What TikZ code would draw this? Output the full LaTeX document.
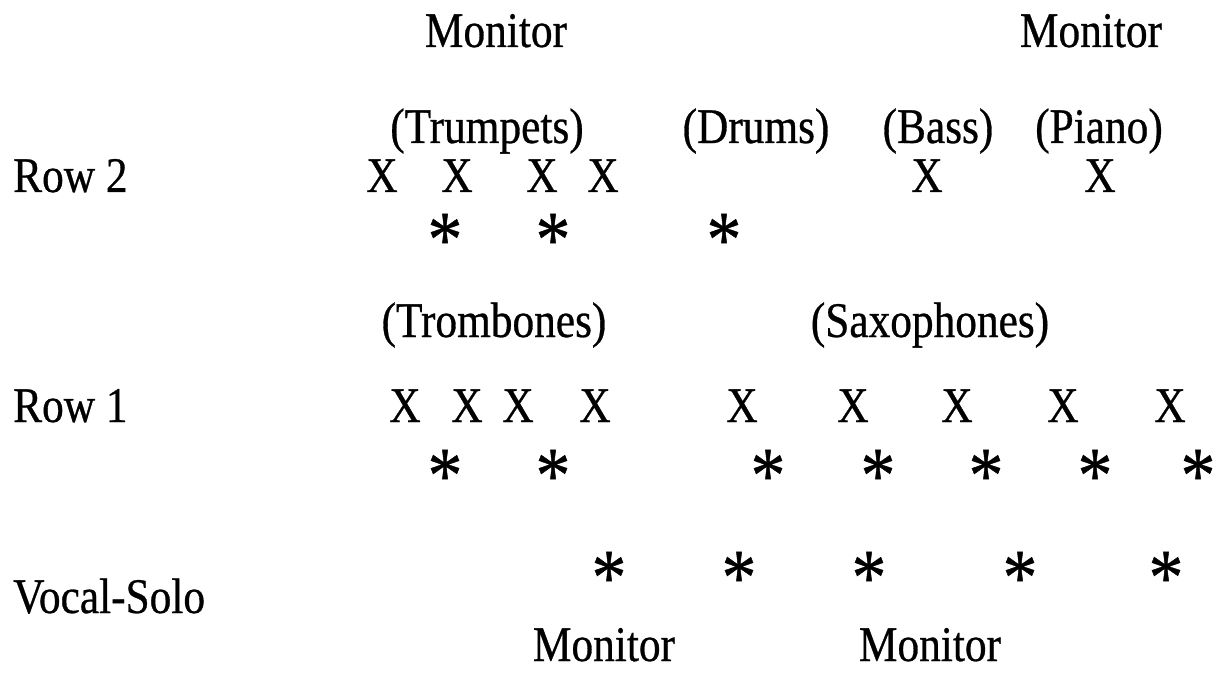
\documentclass[tikz,border=0pt]{standalone}
\usepackage{fontspec}
\setmainfont[FakeStretch=0.87,FakeBold=0.6]{Liberation Serif}
\begin{document}
\begin{tikzpicture}[x=1bp,y=-1bp,
  txt/.style={inner sep=0pt,anchor=base,font=\fontsize{50}{56}\selectfont},
  lft/.style={txt,anchor=base west},
  star/.style={inner sep=0pt,anchor=center,font=\fontsize{80}{90}\selectfont}]
\useasboundingbox[fill=white] (0,0) rectangle (1221,673);
% monitors
\node[txt] (mon1) at (496,47) {Monitor};
\node[txt] (mon2) at (1091,47) {Monitor};
\node[txt] (mon3) at (604,661) {Monitor};
\node[txt] (mon4) at (930,661) {Monitor};
% section labels
\node[txt] (trp) at (487,143) {(Trumpets)};
\node[txt] (drm) at (756,143) {(Drums)};
\node[txt] (bas) at (938,143) {(Bass)};
\node[txt] (pno) at (1099,143) {(Piano)};
\node[txt] (trb) at (494,337) {(Trombones)};
\node[txt] (sax) at (930,337) {(Saxophones)};
% row labels
\node[lft] (row2) at (13,192) {Row 2};
\node[lft] (row1) at (13,422) {Row 1};
\node[lft] (voc) at (13,613) {Vocal-Solo};
% row 2 X
\node[txt] (a1) at (382,192) {X};
\node[txt] (a2) at (457,192) {X};
\node[txt] (a3) at (542,192) {X};
\node[txt] (a4) at (603,192) {X};
\node[txt] (a5) at (927,192) {X};
\node[txt] (a6) at (1100,192) {X};
% row 2 stars
\node[star] (s1) at (445,240) {*};
\node[star] (s2) at (553,240) {*};
\node[star] (s3) at (724,240) {*};
% row 1 X
\node[txt] (b1) at (405,422) {X};
\node[txt] (b2) at (467,422) {X};
\node[txt] (b3) at (518,422) {X};
\node[txt] (b4) at (595,422) {X};
\node[txt] (b5) at (742,422) {X};
\node[txt] (b6) at (853,422) {X};
\node[txt] (b7) at (957,422) {X};
\node[txt] (b8) at (1063,422) {X};
\node[txt] (b9) at (1170,422) {X};
% row 1 stars
\node[star] (t1) at (445,476) {*};
\node[star] (t2) at (553,476) {*};
\node[star] (t3) at (768,476) {*};
\node[star] (t4) at (878,476) {*};
\node[star] (t5) at (986,476) {*};
\node[star] (t6) at (1095,476) {*};
\node[star] (t7) at (1198,476) {*};
% vocal stars
\node[star] (v1) at (609,578) {*};
\node[star] (v2) at (739,578) {*};
\node[star] (v3) at (869,578) {*};
\node[star] (v4) at (1020,578) {*};
\node[star] (v5) at (1166,578) {*};
\end{tikzpicture}
\end{document}
